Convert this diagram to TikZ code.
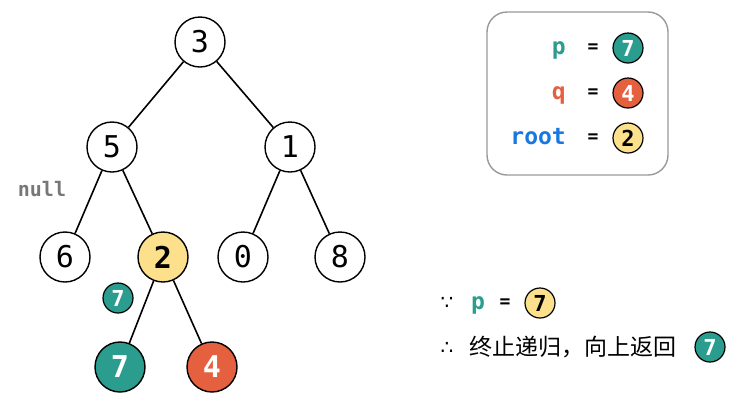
\documentclass[tikz,border=0pt]{standalone}
\usepackage{fontspec}
\setmainfont{DejaVu Sans}
\newfontfamily\digitfont{DejaVu Sans Mono}
\newfontfamily\monofont{DejaVu Sans Mono}
\newfontfamily\cjk{Noto Sans CJK SC}
\definecolor{teal}{HTML}{2A9D8F}
\definecolor{redo}{HTML}{E4603E}
\definecolor{yel}{HTML}{FDE08B}
\definecolor{blu}{HTML}{1877E0}
\definecolor{grayt}{HTML}{777777}
\begin{document}
\begin{tikzpicture}[x=1pt,y=-1pt,
  tn/.style={circle,draw=black,line width=1.4pt,minimum size=50pt,inner sep=0pt,fill=white,font=\digitfont\fontsize{30}{30}\selectfont},
  tnb/.style={tn,font=\digitfont\bfseries\fontsize{30}{30}\selectfont},
  sn/.style={circle,draw=black,line width=1.2pt,minimum size=30pt,inner sep=0pt,font=\digitfont\bfseries\fontsize{22}{22}\selectfont},
  edge/.style={line width=1.6pt},
  lbl/.style={font=\monofont\bfseries\fontsize{23}{23}\selectfont,inner sep=0pt},
  eq/.style={font=\monofont\bfseries\fontsize{18}{18}\selectfont,inner sep=0pt}]
\useasboundingbox (0,0) rectangle (738,400);
% tree
\node[tn] (n3) at (200,42) {3};
\node[tn] (n5) at (112,147) {5};
\node[tn] (n1) at (290,147) {1};
\node[tn] (n6) at (65,257) {6};
\node[tnb,fill=yel] (n2) at (163,257) {2};
\node[tn] (n0) at (243,257) {0};
\node[tn] (n8) at (340,257) {8};
\node[tnb,fill=teal,text=white] (n7) at (120,367) {7};
\node[tnb,fill=redo,text=white] (n4) at (212,367) {4};
\draw[edge] (n3) -- (n5);
\draw[edge] (n3) -- (n1);
\draw[edge] (n5) -- (n6);
\draw[edge] (n5) -- (n2);
\draw[edge] (n1) -- (n0);
\draw[edge] (n1) -- (n8);
\draw[edge] (n2) -- (n7);
\draw[edge] (n2) -- (n4);
\node[sn,fill=teal,text=white] (ret) at (118,298) {7};
\node[font=\monofont\bfseries\fontsize{20}{20}\selectfont,text=grayt,inner sep=0pt] (null) at (42,189) {null};
% legend box
\node[draw=gray!80,line width=1.4pt,rounded corners=20pt,minimum width=181pt,minimum height=163pt] (box) at (577.5,93.5) {};
\node[lbl,text=teal,anchor=base east] (lp) at (566,54) {p};
\node[lbl,text=redo,anchor=base east] (lq) at (566,99) {q};
\node[lbl,text=blu,anchor=base east] (lr) at (566,144) {root};
\node[eq] (e1) at (593,48) {=};
\node[eq] (e2) at (593,93) {=};
\node[eq] (e3) at (593,138) {=};
\node[sn,fill=teal,text=white] (c1) at (628,48) {7};
\node[sn,fill=redo,text=white] (c2) at (628,93) {4};
\node[sn,fill=yel] (c3) at (628,138) {2};
% explanation
\node[font=\fontsize{20}{20}\selectfont,inner sep=0pt] (bec) at (447,303) {∵};
\node[lbl,text=teal,anchor=base] (bp) at (478,309) {p};
\node[eq] (be) at (505,303) {=};
\node[sn,fill=yel] (bc) at (540,303) {7};
\node[font=\fontsize{20}{20}\selectfont,inner sep=0pt] (the) at (447,348) {∴};
\node[font=\cjk\fontsize{23}{23}\selectfont,anchor=west,inner sep=0pt] (txt) at (469,347) {终止递归，向上返回};
\node[sn,fill=teal,text=white] (tc) at (710,347) {7};
\end{tikzpicture}
\end{document}
